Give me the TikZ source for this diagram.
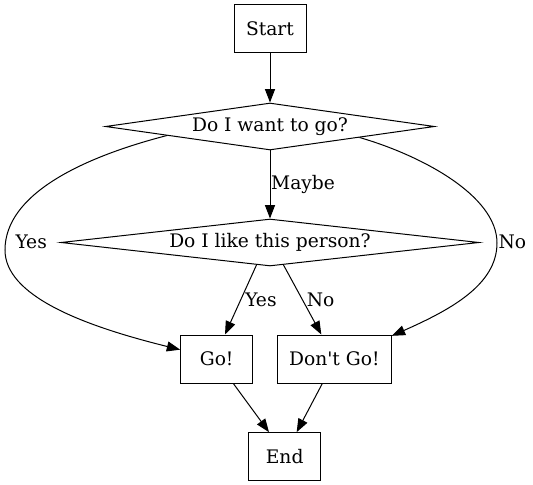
\documentclass[tikz,border=0pt]{standalone}
\usepackage{fontspec}
\setmainfont{DejaVu Serif}
\usetikzlibrary{positioning, shapes.geometric, arrows.meta}

\begin{document}
\begin{tikzpicture}[x=0.75pt, y=-0.75pt, node distance=36.75pt and 17.75pt,
        line width=0.75pt, font=\fontsize{14pt}{17pt}\selectfont]
        % Styles
        \tikzstyle{block} = [rectangle, draw, minimum width=54pt, minimum height=36pt]
        \tikzstyle{decision} = [diamond, draw, aspect=8, inner sep=0pt,
            minimum height=35.25pt]
        \tikzstyle{line} = [draw, -{Triangle[length=10pt, width=7.5pt]}]
        \tikzstyle{edgelabel} = [anchor=west, inner sep=3pt]

        \useasboundingbox (0,0) rectangle (533,485);

        % Nodes
        \node [block] (start) at (270,29) {Start};
        \node [decision, minimum width=246.75pt, below=of start] (want) {Do I want to go?};
        \node [decision, minimum width=313.5pt, below=51pt of want] (like) {Do I like this person?};
        \node [block, below=51pt of like, xshift=-40pt] (go) {Go!};
        \node [block, minimum width=85.5pt, right=of go] (dontgo) {Don\textquotesingle t Go!};
        \node [block, below=36.5pt of go, xshift=51pt] (end) {End};

        % Connections
        \path [line] (start) -- (want);
        \path [line] (want) -- node [edgelabel, inner sep=0.5pt] {Maybe} (like);
        \path [line] (want.185) .. controls (80,158) and (5,195) .. (5,250)
            node [anchor=west, inner sep=0pt, xshift=7.5pt, yshift=6pt] {Yes}
            .. controls (5,295) and (80,325) .. ([yshift=7pt]go.west);
        \path [line] (want.-7.5) .. controls (420,155) and (497,195) .. (497,243)
            node [anchor=west, inner sep=0pt, xshift=0.75pt, yshift=0.75pt] {No}
            .. controls (497,285) and (450,310) .. ([yshift=-1pt]dontgo.north east);
        \path [line] (like.239) -- node [edgelabel] {Yes} ([xshift=6.25pt]go.north);
        \path [line] (like.-59) -- node [edgelabel] {No} ([xshift=-9.75pt]dontgo.north);
        \path [line] ([xshift=12.5pt]go.south) -- ([xshift=-11.75pt]end.north);
        \path [line] ([xshift=-9pt]dontgo.south) -- ([xshift=9pt]end.north);
    \end{tikzpicture}
\end{document}
